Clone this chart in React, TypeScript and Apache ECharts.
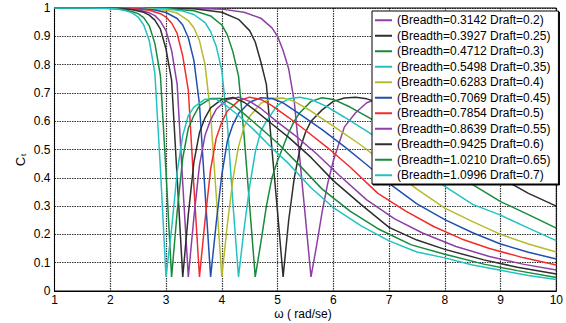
import React, { useEffect, useRef } from "react";
import * as echarts from "echarts";

const breadths = ["0.3142", "0.3927", "0.4712", "0.5498", "0.6283", "0.7069", "0.7854", "0.8639", "0.9425", "1.0210", "1.0996"];
const drafts = ["0.2", "0.25", "0.3", "0.35", "0.4", "0.45", "0.5", "0.55", "0.6", "0.65", "0.7"];
const colors = ["#8e3fa6", "#2e2e2e", "#178a3c", "#22c2c2", "#b6bb2c", "#1f50b0", "#f22c2c", "#8e3fa6", "#2e2e2e", "#178a3c", "#22c2c2"];

const w1 = [1, 3, 3.5, 4, 4.4, 4.7, 4.9, 5, 5.1, 5.2, 5.3, 5.4, 5.5, 5.6, 5.7, 5.8, 5.9, 6, 6.2, 6.4, 6.6, 6.8, 7, 7.3, 7.6, 8, 8.5, 9, 9.5, 10];
const c1 = [1, 1, 0.999, 0.996, 0.985, 0.964, 0.93, 0.9, 0.85, 0.785, 0.67, 0.465, 0.26, 0.05, 0.16, 0.28, 0.38, 0.46, 0.58, 0.63, 0.665, 0.68, 0.685, 0.677, 0.657, 0.62, 0.573, 0.526, 0.472, 0.41];

const w2 = [1, 3, 3.5, 4, 4.3, 4.5, 4.6, 4.7, 4.8, 4.9, 5, 5.1, 5.2, 5.3, 5.4, 5.5, 5.6, 5.8, 6, 6.2, 6.4, 6.6, 6.8, 7, 7.5, 8, 8.5, 9, 9.5, 10];
const c2 = [1, 1, 0.997, 0.985, 0.96, 0.92, 0.88, 0.81, 0.73, 0.5, 0.28, 0.05, 0.25, 0.4, 0.5, 0.56, 0.6, 0.64, 0.67, 0.682, 0.685, 0.679, 0.667, 0.65, 0.6, 0.52, 0.46, 0.4, 0.345, 0.3];

const w3 = [1, 2.5, 3, 3.5, 3.8, 4, 4.1, 4.2, 4.3, 4.4, 4.5, 4.6, 4.7, 4.8, 4.9, 5, 5.1, 5.2, 5.3, 5.4, 5.6, 5.8, 6, 6.3, 6.6, 7, 7.5, 8, 8.5, 9, 9.5, 10];
const c3 = [1, 1, 0.998, 0.99, 0.972, 0.94, 0.905, 0.845, 0.76, 0.55, 0.3, 0.05, 0.17, 0.3, 0.4, 0.46, 0.51, 0.56, 0.6, 0.63, 0.67, 0.683, 0.677, 0.65, 0.617, 0.572, 0.51, 0.445, 0.376, 0.316, 0.27, 0.222];

const w4 = [1, 2.5, 3, 3.3, 3.5, 3.7, 3.8, 3.9, 4, 4.1, 4.2, 4.3, 4.4, 4.5, 4.6, 4.7, 4.8, 5, 5.2, 5.4, 5.6, 5.9, 6.2, 6.6, 7, 7.5, 8, 8.5, 9, 9.5, 10];
const c4 = [1, 1, 0.997, 0.989, 0.977, 0.948, 0.917, 0.865, 0.78, 0.59, 0.31, 0.05, 0.22, 0.37, 0.49, 0.565, 0.6, 0.657, 0.679, 0.685, 0.677, 0.65, 0.614, 0.565, 0.513, 0.44, 0.37, 0.306, 0.268, 0.222, 0.178];

const w5 = [1, 2, 2.5, 3, 3.2, 3.4, 3.5, 3.6, 3.7, 3.8, 3.9, 4, 4.1, 4.2, 4.3, 4.4, 4.5, 4.7, 4.9, 5.1, 5.3, 5.6, 6, 6.5, 7, 7.5, 8, 8.5, 9, 9.5, 10];
const c5 = [1, 1, 0.999, 0.992, 0.982, 0.955, 0.93, 0.885, 0.8, 0.625, 0.34, 0.05, 0.235, 0.395, 0.51, 0.58, 0.617, 0.663, 0.681, 0.682, 0.67, 0.636, 0.583, 0.515, 0.438, 0.36, 0.293, 0.245, 0.2, 0.166, 0.138];

const w6 = [1, 2, 2.5, 2.8, 3, 3.2, 3.3, 3.4, 3.5, 3.6, 3.7, 3.8, 3.9, 4, 4.1, 4.2, 4.3, 4.5, 4.7, 4.9, 5.1, 5.4, 5.8, 6.2, 6.6, 7, 7.5, 8, 8.5, 9, 9.5, 10];
const c6 = [1, 1, 0.998, 0.993, 0.984, 0.963, 0.94, 0.895, 0.815, 0.66, 0.35, 0.05, 0.24, 0.41, 0.53, 0.588, 0.627, 0.667, 0.683, 0.68, 0.665, 0.625, 0.57, 0.51, 0.446, 0.38, 0.308, 0.252, 0.206, 0.166, 0.137, 0.113];

const w7 = [1, 2, 2.4, 2.7, 2.9, 3, 3.1, 3.2, 3.3, 3.4, 3.5, 3.6, 3.7, 3.8, 3.9, 4, 4.1, 4.3, 4.5, 4.7, 4.9, 5.2, 5.5, 5.9, 6.3, 6.8, 7.3, 7.8, 8.3, 8.8, 9.4, 10];
const c7 = [1, 1, 0.998, 0.992, 0.98, 0.968, 0.947, 0.91, 0.83, 0.71, 0.37, 0.05, 0.25, 0.43, 0.54, 0.597, 0.636, 0.672, 0.685, 0.677, 0.655, 0.613, 0.568, 0.506, 0.438, 0.345, 0.282, 0.228, 0.184, 0.15, 0.118, 0.092];

const w8 = [1, 1.8, 2.2, 2.5, 2.7, 2.8, 2.9, 3, 3.1, 3.2, 3.3, 3.4, 3.5, 3.6, 3.7, 3.8, 3.9, 4.1, 4.3, 4.5, 4.7, 5, 5.3, 5.7, 6.1, 6.6, 7.1, 7.6, 8.2, 8.8, 9.4, 10];
const c8 = [1, 1, 0.998, 0.994, 0.983, 0.973, 0.953, 0.92, 0.85, 0.73, 0.38, 0.05, 0.26, 0.445, 0.55, 0.605, 0.642, 0.677, 0.685, 0.67, 0.645, 0.597, 0.552, 0.485, 0.41, 0.322, 0.255, 0.205, 0.157, 0.122, 0.095, 0.074];

const w9 = [1, 1.8, 2.2, 2.4, 2.6, 2.7, 2.8, 2.9, 3, 3.1, 3.2, 3.3, 3.4, 3.5, 3.6, 3.7, 3.8, 4, 4.2, 4.4, 4.6, 4.9, 5.2, 5.6, 6, 6.5, 7, 7.5, 8, 8.7, 9.3, 10];
const c9 = [1, 1, 0.998, 0.994, 0.985, 0.975, 0.957, 0.925, 0.855, 0.745, 0.4, 0.05, 0.27, 0.455, 0.56, 0.612, 0.647, 0.677, 0.684, 0.667, 0.638, 0.59, 0.543, 0.472, 0.39, 0.305, 0.225, 0.18, 0.147, 0.11, 0.084, 0.06];

const w10 = [1, 1.7, 2, 2.2, 2.4, 2.5, 2.6, 2.7, 2.8, 2.9, 3, 3.1, 3.2, 3.3, 3.4, 3.5, 3.6, 3.8, 4, 4.2, 4.4, 4.7, 5, 5.4, 5.8, 6.3, 6.8, 7.4, 8, 8.7, 9.3, 10];
const c10 = [1, 1, 0.998, 0.996, 0.987, 0.98, 0.966, 0.937, 0.875, 0.76, 0.42, 0.05, 0.28, 0.47, 0.575, 0.62, 0.655, 0.68, 0.68, 0.658, 0.626, 0.575, 0.523, 0.443, 0.36, 0.282, 0.22, 0.163, 0.13, 0.095, 0.072, 0.048];

const w11 = [1, 1.6, 1.9, 2.1, 2.3, 2.4, 2.5, 2.6, 2.7, 2.8, 2.9, 3, 3.1, 3.2, 3.3, 3.4, 3.5, 3.7, 3.9, 4.1, 4.3, 4.6, 4.9, 5.2, 5.6, 6, 6.5, 7, 7.5, 8, 8.5, 9, 9.5, 10];
const c11 = [1, 1, 0.999, 0.997, 0.989, 0.982, 0.968, 0.94, 0.885, 0.77, 0.43, 0.05, 0.22, 0.42, 0.55, 0.62, 0.65, 0.678, 0.678, 0.652, 0.62, 0.565, 0.505, 0.45, 0.365, 0.295, 0.23, 0.177, 0.138, 0.117, 0.092, 0.073, 0.055, 0.041];

const omegas = [w1, w2, w3, w4, w5, w6, w7, w8, w9, w10, w11];
const cts = [c1, c2, c3, c4, c5, c6, c7, c8, c9, c10, c11];

const FONT = "Liberation Sans, Arial, sans-serif";

export default function App() {
  const ref = useRef<HTMLDivElement>(null);
  useEffect(() => {
    if (!ref.current) return;
    const chart = echarts.init(ref.current, undefined, { renderer: "svg" });
    const names = breadths.map((b, i) => `(Breadth=${b} Draft=${drafts[i]})`);
    const series = names.map((name, i) => ({
      name,
      type: "line",
      showSymbol: false,
      symbol: "none",
      data: omegas[i].map((x, j) => [x, cts[i][j]]),
      lineStyle: { width: 1.5, color: colors[i] },
      itemStyle: { color: colors[i] },
      emphasis: { disabled: true },
    }));
    const gridLine = { show: true, lineStyle: { color: "#000", type: [1.5, 1], width: 1.2, opacity: 0.8 } };
    chart.setOption({
      animation: false,
      backgroundColor: "#fff",
      textStyle: { fontFamily: FONT },
      grid: {
        left: 54.5,
        right: 9.3,
        top: 8,
        bottom: 32,
        show: true,
        borderColor: "#000",
        borderWidth: 1,
        containLabel: false,
      },
      xAxis: {
        type: "value",
        min: 1,
        max: 10,
        interval: 1,
        axisLine: { show: true, lineStyle: { color: "#000", width: 1 } },
        axisTick: { show: false },
        axisLabel: { color: "#000", fontSize: 12, lineHeight: 12, margin: 3, fontFamily: FONT },
        splitLine: gridLine,
      },
      yAxis: {
        type: "value",
        min: 0,
        max: 1,
        interval: 0.1,
        axisLine: { show: true, lineStyle: { color: "#000", width: 1 } },
        axisTick: { show: false },
        axisLabel: { color: "#000", fontSize: 12, margin: 4, fontFamily: FONT },
        splitLine: gridLine,
      },
      legend: {
        data: names,
        orient: "vertical",
        left: 372,
        top: 11,
        padding: [1.5, 8, 1, 3],
        itemGap: 0,
        itemWidth: 17,
        itemHeight: 2,
        icon: "rect",
        selectedMode: false,
        backgroundColor: "#fff",
        borderColor: "#000",
        borderWidth: 1,
        borderRadius: 0,
        shadowColor: "#000",
        shadowOffsetX: 1,
        shadowOffsetY: 1,
        shadowBlur: 0,
        textStyle: { fontSize: 12, color: "#000", fontFamily: FONT, lineHeight: 15.5 },
      },
      graphic: [
        {
          type: "text",
          x: 303,
          y: 314,
          style: {
            text: "ω ( rad/se)",
            fontSize: 12,
            lineHeight: 12,
            fontFamily: FONT,
            fill: "#000",
            align: "center",
            verticalAlign: "middle",
          },
        },
        {
          type: "text",
          x: 20,
          y: 160,
          rotation: Math.PI / 2,
          style: {
            text: "{a|C}{b|t}",
            align: "center",
            verticalAlign: "middle",
            rich: {
              a: { fontSize: 13, fontFamily: FONT, fill: "#000" },
              b: { fontSize: 8, fontFamily: FONT, fill: "#000", verticalAlign: "bottom", padding: [6, 0, 0, 1] },
            },
          },
        },
      ],
      series,
    });
    return () => chart.dispose();
  }, []);
  return (
    <div
      ref={ref}
      style={{ position: "fixed", left: 0, top: 0, width: 566, height: 323, background: "#fff" }}
    />
  );
}
